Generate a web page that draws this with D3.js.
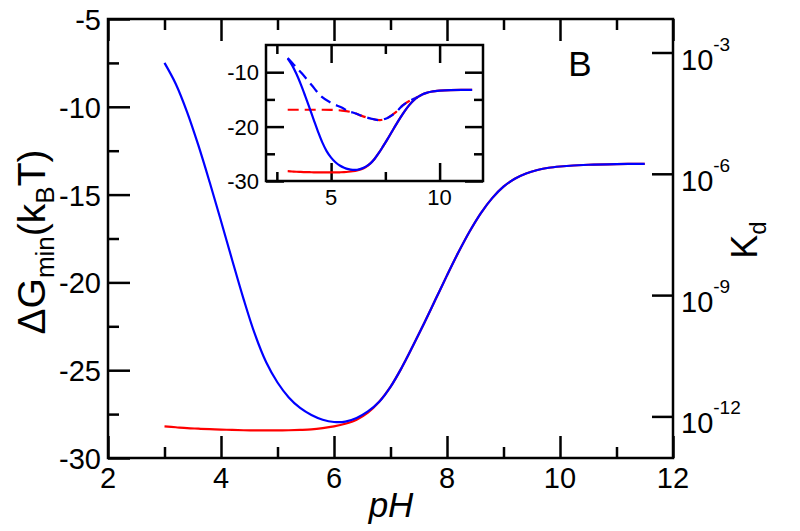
<!DOCTYPE html>
<html>
<head>
<meta charset="utf-8">
<script src="https://cdn.jsdelivr.net/npm/d3@7"></script>
<style>
  body { margin: 0; background: #fff; }
  svg text { font-family: "Liberation Sans", Arial, sans-serif; fill: #000; }
  .axis path, .axis line { stroke: #000; stroke-width: 2.5; }
</style>
</head>
<body>
<div id="chart"></div>
<script>
// pH grid and curves (free energy in kBT)
var pH       = [3.0, 3.2, 3.4, 3.6, 3.8, 4.0, 4.2, 4.4, 4.6, 4.8, 5.0, 5.2, 5.4, 5.6, 5.8, 6.0, 6.2, 6.4, 6.6, 6.8, 7.0, 7.2, 7.4, 7.6, 7.8, 8.0, 8.2, 8.4, 8.6, 8.8, 9.0, 9.2, 9.4, 9.6, 9.8, 10.0, 10.5, 11.0, 11.5]
var dG_blue  = [-7.5, -8.7, -10.3, -12.2, -14.3, -16.5, -18.75, -20.95, -22.95, -24.55, -25.7, -26.55, -27.15, -27.55, -27.82, -27.95, -27.93, -27.72, -27.35, -26.8, -25.95, -24.85, -23.6, -22.3, -20.95, -19.6, -18.3, -17.1, -16.05, -15.2, -14.55, -14.1, -13.8, -13.6, -13.47, -13.4, -13.3, -13.26, -13.25]
var dG_red   = [-28.2, -28.25, -28.3, -28.33, -28.36, -28.38, -28.4, -28.42, -28.43, -28.43, -28.43, -28.42, -28.4, -28.37, -28.3, -28.2, -28.05, -27.82, -27.42, -26.8, -25.95, -24.85, -23.6, -22.3, -20.95, -19.6, -18.3, -17.1, -16.05, -15.2, -14.55, -14.1, -13.8, -13.6, -13.47, -13.4, -13.3, -13.26, -13.25]

// inset dashed curves
var pH_dash_red   = [3.0, 3.5, 4.0, 4.5, 5.0, 5.5, 6.0, 6.33, 6.8, 7.25, 7.6, 8.0, 8.3, 8.6, 9.0]
var dG_dash_red   = [-16.9, -16.9, -16.9, -16.9, -16.92, -17.05, -17.4, -17.9, -18.5, -18.8, -18.4, -17.3, -16.1, -15.3, -14.55]
var pH_dash_blue  = [3.0, 3.3, 3.65, 4.1, 4.56, 5.03, 5.49, 5.8, 6.0, 6.33, 6.8, 7.25, 7.6, 8.0, 8.3, 8.6, 9.0]
var dG_dash_blue  = [-7.4, -8.7, -10.2, -12.35, -14.5, -15.7, -16.5, -17.2, -17.4, -17.9, -18.5, -18.8, -18.4, -17.3, -16.1, -15.3, -14.55]

// tick values
var xMajor = [2, 4, 6, 8, 10, 12]
var xMinor = [3, 5, 7, 9, 11]
var yMajor = [-30, -25, -20, -15, -10, -5]
var yMinor = [-27.5, -22.5, -17.5, -12.5, -7.5]
var kdTicks = [1e-3, 1e-6, 1e-9, 1e-12]
var kdLabels = ['-3', '-6', '-9', '-12']
var insetXMajor = [5, 10]
var insetXMinor = [2.5, 7.5]
var insetYMajor = [-30, -20, -10]
var insetYMinor = [-25, -15]

var width = 800, height = 531
var svg = d3.select('#chart').append('svg')
    .attr('width', width)
    .attr('height', height)

// main frame
var x = d3.scaleLinear().domain([2, 12]).range([108, 673])
var y = d3.scaleLinear().domain([-30, -5]).range([458, 19])
// Kd = exp(dG), so a log scale over the same span lines up with y
var yKd = d3.scaleLog().domain([Math.exp(-30), Math.exp(-5)]).range([458, 19])

function tickAxis(g, axisFn, scale, values, size) {
    g.call(axisFn(scale).tickValues(values).tickSize(size).tickSizeOuter(0).tickFormat(''))
    g.select('.domain').remove()
}

function frame(xs, ys, xMaj, xMin, yMaj, yMin, big, small, rightTicks) {
    var x0 = xs.range()[0], x1 = xs.range()[1]
    var y0 = ys.range()[0], y1 = ys.range()[1]
    var gB = svg.append('g').attr('class', 'axis').attr('transform', 'translate(0,' + y0 + ')')
    tickAxis(gB.append('g'), d3.axisBottom, xs, xMaj, -big)
    tickAxis(gB.append('g'), d3.axisBottom, xs, xMin, -small)
    var gT = svg.append('g').attr('class', 'axis').attr('transform', 'translate(0,' + y1 + ')')
    tickAxis(gT.append('g'), d3.axisTop, xs, xMaj, -big)
    tickAxis(gT.append('g'), d3.axisTop, xs, xMin, -small)
    var gL = svg.append('g').attr('class', 'axis').attr('transform', 'translate(' + x0 + ',0)')
    tickAxis(gL.append('g'), d3.axisLeft, ys, yMaj, -big)
    tickAxis(gL.append('g'), d3.axisLeft, ys, yMin, -small)
    if (rightTicks) {
        var gR = svg.append('g').attr('class', 'axis').attr('transform', 'translate(' + x1 + ',0)')
        tickAxis(gR.append('g'), d3.axisRight, ys, yMaj, -big)
        tickAxis(gR.append('g'), d3.axisRight, ys, yMin, -small)
    }
    svg.append('rect')
        .attr('x', x0).attr('y', y1)
        .attr('width', x1 - x0).attr('height', y0 - y1)
        .attr('fill', 'none').attr('stroke', '#000').attr('stroke-width', 2.5)
}

frame(x, y, xMajor, xMinor, yMajor, yMinor, 22, 11, false)

// right Kd ticks
var gKd = svg.append('g').attr('class', 'axis').attr('transform', 'translate(673,0)')
tickAxis(gKd, d3.axisRight, yKd, kdTicks, -21)

// main tick labels
svg.append('g').selectAll('text').data(xMajor).enter().append('text')
    .attr('x', d => x(d)).attr('y', 458 + 30)
    .attr('text-anchor', 'middle').attr('font-size', 29)
    .text(d => d)
svg.append('g').selectAll('text').data(yMajor).enter().append('text')
    .attr('x', 101).attr('y', d => y(d) + 11)
    .attr('text-anchor', 'end').attr('font-size', 29)
    .text(d => d)
var kdText = svg.append('g').selectAll('text').data(kdTicks).enter().append('text')
    .attr('x', 681).attr('y', d => yKd(d) + 17)
    .attr('font-size', 29)
kdText.append('tspan').text('10')
kdText.append('tspan').attr('font-size', 19).attr('dy', -19).text((d, i) => kdLabels[i])

// axis titles
var yTitle = svg.append('text')
    .attr('transform', 'translate(45,242) rotate(-90)')
    .attr('text-anchor', 'middle').attr('font-size', 39)
yTitle.append('tspan').text('ΔG')
yTitle.append('tspan').attr('font-size', 26).attr('dy', 9).text('min')
yTitle.append('tspan').attr('dy', -9).text('(k')
yTitle.append('tspan').attr('font-size', 26).attr('dy', 9).text('B')
yTitle.append('tspan').attr('dy', -9).text('T)')

var kdTitle = svg.append('text')
    .attr('transform', 'translate(757,240) rotate(-90)')
    .attr('text-anchor', 'middle').attr('font-size', 36)
kdTitle.append('tspan').text('K')
kdTitle.append('tspan').attr('font-size', 24).attr('dy', 9).text('d')

svg.append('text')
    .attr('x', 391).attr('y', 517)
    .attr('text-anchor', 'middle')
    .attr('font-family', '"Liberation Serif", "Times New Roman", serif')
    .attr('font-style', 'italic').attr('font-size', 35)
    .text('pH')

svg.append('text')
    .attr('x', 580).attr('y', 76)
    .attr('text-anchor', 'middle').attr('font-size', 35)
    .text('B')

// main curves
var line = d3.line().x(d => x(d[0])).y(d => y(d[1])).curve(d3.curveCatmullRom.alpha(0.5))
svg.append('path').datum(d3.zip(pH, dG_red))
    .attr('d', line).attr('fill', 'none').attr('stroke', '#ff0000').attr('stroke-width', 2.2)
svg.append('path').datum(d3.zip(pH, dG_blue))
    .attr('d', line).attr('fill', 'none').attr('stroke', '#0000ff').attr('stroke-width', 2.2)

// inset
var xi = d3.scaleLinear().domain([2, 12]).range([266, 483])
var yi = d3.scaleLinear().domain([-30, -5]).range([181, 45])

svg.append('rect').attr('x', 266).attr('y', 45).attr('width', 217).attr('height', 136).attr('fill', '#fff')
frame(xi, yi, insetXMajor, insetXMinor, insetYMajor, insetYMinor, 18, 9, true)

svg.append('g').selectAll('text').data(insetXMajor).enter().append('text')
    .attr('x', d => xi(d)).attr('y', 181 + 24)
    .attr('text-anchor', 'middle').attr('font-size', 22)
    .text(d => d)
svg.append('g').selectAll('text').data(insetYMajor).enter().append('text')
    .attr('x', 259).attr('y', d => yi(d) + 8)
    .attr('text-anchor', 'end').attr('font-size', 22)
    .text(d => d)

var lineI = d3.line().x(d => xi(d[0])).y(d => yi(d[1])).curve(d3.curveCatmullRom.alpha(0.5))
var gI = svg.append('g')
gI.append('path').datum(d3.zip(pH_dash_red, dG_dash_red))
    .attr('d', lineI).attr('fill', 'none').attr('stroke', '#ff0000').attr('stroke-width', 2.2)
    .attr('stroke-dasharray', '11,6')
gI.append('path').datum(d3.zip(pH_dash_blue, dG_dash_blue))
    .attr('d', lineI).attr('fill', 'none').attr('stroke', '#0000ff').attr('stroke-width', 2.2)
    .attr('stroke-dasharray', '11,6')
gI.append('path').datum(d3.zip(pH, dG_red))
    .attr('d', lineI).attr('fill', 'none').attr('stroke', '#ff0000').attr('stroke-width', 2.2)
gI.append('path').datum(d3.zip(pH, dG_blue))
    .attr('d', lineI).attr('fill', 'none').attr('stroke', '#0000ff').attr('stroke-width', 2.2)
</script>
</body>
</html>
